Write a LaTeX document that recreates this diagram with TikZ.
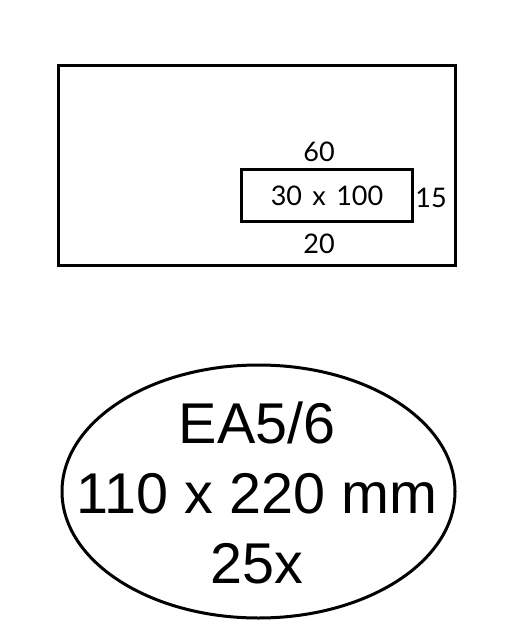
\documentclass[tikz,border=0pt]{standalone}
\usepackage{fontspec}
\setmainfont{Liberation Sans}
\newfontfamily\smallfont[WordSpace=1.5]{Lato}
\begin{document}
\begin{tikzpicture}[x=1pt,y=-1pt,
  frame/.style={draw=black,line width=3pt,inner sep=0pt,fill=none},
  dimlabel/.style={font=\smallfont\fontsize{27}{27}\selectfont,inner sep=0pt,anchor=base},
  biglabel/.style={font=\fontsize{57.5}{57.5}\selectfont,inner sep=0pt,anchor=base}]
\useasboundingbox (0,0) rectangle (506,640);
\node[frame,minimum width=397pt,minimum height=200pt] (env) at (256.5,165) {};
\node[frame,minimum width=171pt,minimum height=52pt] (win) at (326.5,195) {};
\node[dimlabel] (size) at (327,205) {30 x 100};
\node[dimlabel] (top) at (319,161) {60};
\node[dimlabel] (bot) at (319,253) {20};
\node[dimlabel] (right) at (431,207.5) {15};
\draw[line width=3pt] (258.5,491.5) ellipse [x radius=196.5, y radius=126.5];
\node[biglabel] (type) at (257,443) {EA5/6};
\node[biglabel] (dims) at (257,513) {110 x 220 mm};
\node[biglabel] (qty) at (257,583) {25x};
\end{tikzpicture}
\end{document}
